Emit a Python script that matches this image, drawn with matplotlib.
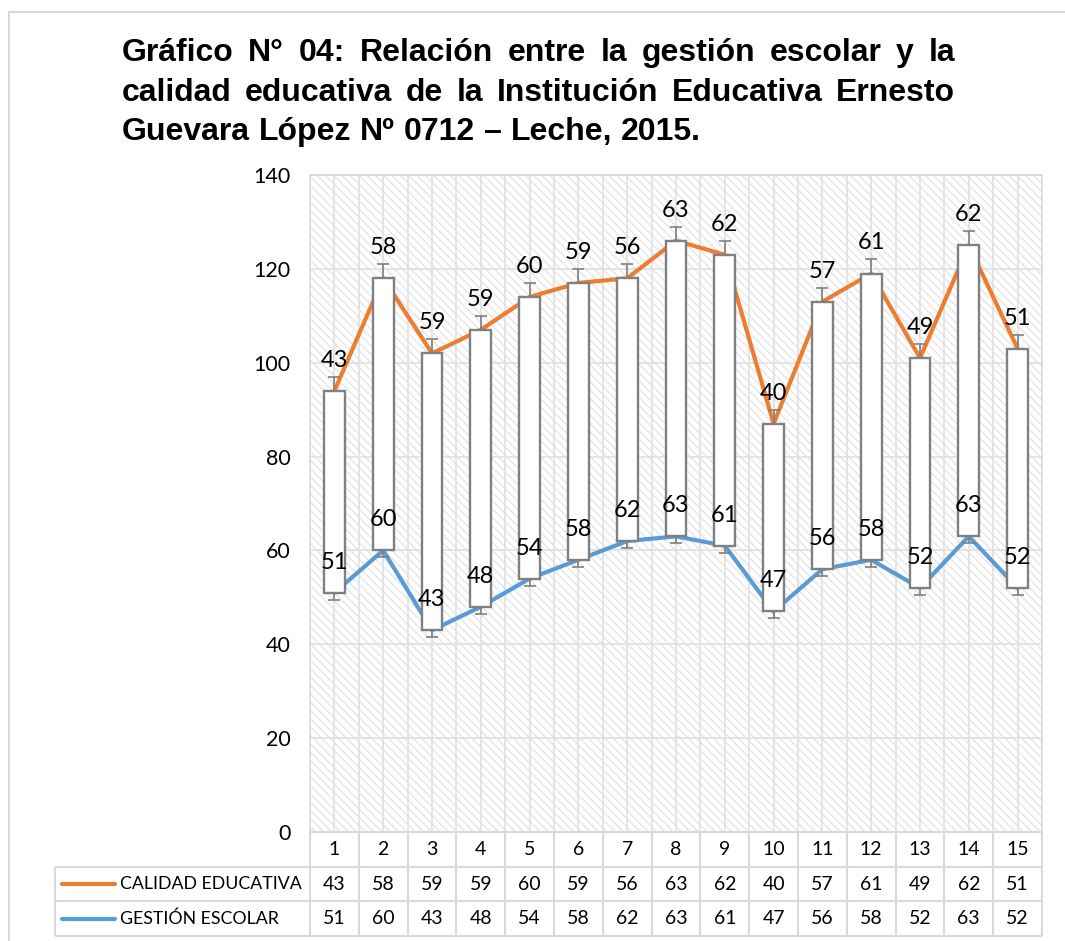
import numpy as np
import matplotlib.pyplot as plt
from matplotlib.patches import Rectangle

plt.rcParams['font.family'] = ['Lato', 'DejaVu Sans']
plt.rcParams['hatch.linewidth'] = 1.0

# datos
categorias = list(range(1, 16))
calidad = [43, 58, 59, 59, 60, 59, 56, 63, 62, 40, 57, 61, 49, 62, 51]
gestion = [51, 60, 43, 48, 54, 58, 62, 63, 61, 47, 56, 58, 52, 63, 52]
err_calidad = 3
err_gestion = 1.5
yticks = [0, 20, 40, 60, 80, 100, 120, 140]
serie_cal = 'CALIDAD EDUCATIVA'
serie_ges = 'GESTIÓN ESCOLAR'
titulo = ['Gráfico N° 04: Relación entre la gestión escolar y la',
          'calidad educativa de la Institución Educativa Ernesto',
          'Guevara López Nº 0712 – Leche, 2015.']

naranja = '#ED7D31'
azul = '#5B9BD5'
gris = '#D9D9D9'
gris_osc = '#808080'

W, H = 1065, 941
fig = plt.figure(figsize=(W / 100, H / 100), dpi=100)


def caja(x0, y0, x1, y1):
    # pixeles con origen arriba a la izquierda -> coords de figura
    return [x0 / W, 1 - y1 / H, (x1 - x0) / W, (y1 - y0) / H]


# marco exterior
fig.add_artist(Rectangle((9 / W, -0.1), 1.2, 1 - 12 / H + 0.1, transform=fig.transFigure,
                         fill=False, edgecolor=gris, lw=1.5))

ax = fig.add_axes(caja(310, 175, 1042, 832))
x = np.array(categorias)
ges = np.array(gestion)
cal = np.array(calidad)
acum = ges + cal

ax.set_xlim(0.5, 15.5)
ax.set_ylim(0, 140)
ax.add_patch(Rectangle((0, 0), 1, 1, transform=ax.transAxes, facecolor='white',
                       edgecolor='#E6E6E6', hatch='\\\\\\\\', lw=0, zorder=0))
ax.set_yticks(yticks)
ax.set_xticks(np.arange(0.5, 15.6, 0.5))
ax.set_xticklabels([])
ax.grid(color='#E0E0E0', lw=1.2, zorder=1)
ax.set_axisbelow(True)
ax.tick_params(length=0, labelsize=15.5, pad=14)
for s in ax.spines.values():
    s.set_color(gris)
    s.set_linewidth(1.2)

ax.plot(x, acum, color=naranja, lw=3, zorder=2)
ax.plot(x, ges, color=azul, lw=3, zorder=2)
ax.bar(x, cal, bottom=ges, width=0.43, facecolor='white', edgecolor=gris_osc, lw=1.7, zorder=3)
ax.errorbar(x, acum, yerr=[np.zeros(15), np.full(15, err_calidad)], fmt='none',
            ecolor=gris_osc, elinewidth=1.2, capsize=4, capthick=1.2, zorder=4)
ax.errorbar(x, ges, yerr=[np.full(15, err_gestion), np.zeros(15)], fmt='none',
            ecolor=gris_osc, elinewidth=1.2, capsize=4, capthick=1.2, zorder=4)

for xi, ya, c, g in zip(x, acum, cal, ges):
    ax.annotate(str(c), (xi, ya), xytext=(0, 22), textcoords='offset points',
                ha='center', va='center', fontsize=17, zorder=6)
    ax.annotate(str(g), (xi, g), xytext=(0, 22), textcoords='offset points',
                ha='center', va='center', fontsize=17, zorder=6)

# tabla de datos
tax = fig.add_axes(caja(55, 832, 1042, 936))
izq = 0.5 - (310 - 55) / 48.8
tax.set_xlim(izq, 15.5)
tax.set_ylim(3, 0)
tax.axis('off')
tax.hlines(0, 0.5, 15.5, color=gris, lw=1.5, clip_on=False)
tax.hlines([1, 2, 3], izq, 15.5, color=gris, lw=1.5, clip_on=False)
tax.vlines(np.arange(0.5, 15.6, 1), 0, 3, color=gris, lw=1.5, clip_on=False)
tax.vlines(izq, 1, 3, color=gris, lw=1.5, clip_on=False)
for xi, c, g in zip(x, cal, ges):
    tax.text(xi, 0.5, str(xi), ha='center', va='center', fontsize=14)
    tax.text(xi, 1.5, str(c), ha='center', va='center', fontsize=14)
    tax.text(xi, 2.5, str(g), ha='center', va='center', fontsize=14)
l0 = izq + 7 / 48.8
l1 = izq + 60 / 48.8
for fila, nombre, col in [(1.5, serie_cal, naranja), (2.5, serie_ges, azul)]:
    tax.plot([l0, l1], [fila, fila], color=col, lw=3, solid_capstyle='round', clip_on=False)
    tax.text(izq + 65 / 48.8, fila, nombre, ha='left', va='center', fontsize=12.8)

# titulo justificado
rend = fig.canvas.get_renderer()
tfont = dict(family='Liberation Sans', weight='bold', size=23)
x_ini, x_fin = 122, 955
bases = [61, 101, 140]


def ancho(s):
    t = fig.text(0, 0, s, **tfont)
    w = t.get_window_extent(rend).width
    t.remove()
    return w


esp = ancho('a a') - ancho('aa')
for k, (linea, yb) in enumerate(zip(titulo, bases)):
    palabras = linea.split(' ')
    anchos = [ancho(p) for p in palabras]
    if k < len(titulo) - 1:
        hueco = (x_fin - x_ini - sum(anchos)) / (len(palabras) - 1)
    else:
        hueco = esp
    xp = x_ini
    for p, w in zip(palabras, anchos):
        fig.text(xp / W, 1 - yb / H, p, ha='left', va='baseline', **tfont)
        xp += w + hueco

fig.savefig('out.png', dpi=100)
